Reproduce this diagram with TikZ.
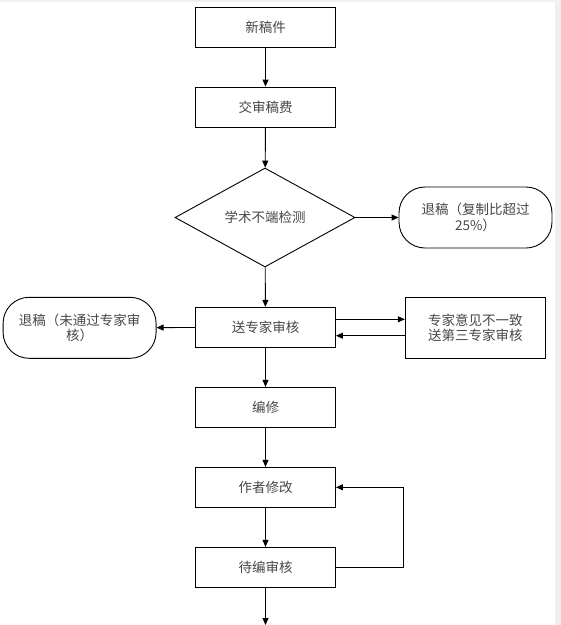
\documentclass[tikz,border=0pt]{standalone}
\usepackage{fontspec}
\newfontfamily\cjk{Noto Sans CJK SC}
\usetikzlibrary{arrows.meta,shapes.geometric}
\definecolor{txt}{RGB}{70,70,70}
\definecolor{edge}{RGB}{240,240,240}
\begin{document}
\begin{tikzpicture}[x=1pt,y=-1pt,
  every node/.style={font=\cjk\fontsize{13.5}{15.5}\selectfont, text=txt},
  box/.style={draw=black, line width=0.9pt, minimum width=140pt, minimum height=40pt, inner sep=0pt, align=center},
  stadium/.style={draw=black, line width=0.9pt, rounded corners=26pt, minimum width=153pt, minimum height=61pt, inner sep=0pt, align=center},
  dia/.style={draw=black, line width=0.9pt, diamond, aspect=1.82, minimum width=180pt, minimum height=99pt, inner sep=0pt},
  arr/.style={draw=black, line width=0.9pt, -{Triangle[length=7pt,width=6pt]}}]
\useasboundingbox (0,0) rectangle (561,625);
\fill[edge] (0,0) rectangle (561,1.6);
\fill[edge] (555,0) rectangle (561,625);

\node[box] (n1) at (265.5,27) {新稿件};
\node[box] (n2) at (265.5,107) {交审稿费};
\node[dia] (d) at (265,217.5) {学术不端检测};
\node[stadium] (r1) at (475.5,217.5) {退稿（复制比超过\\25\%）};
\node[box] (n3) at (265.5,327.3) {送专家审核};
\node[stadium] (r2) at (79.6,327.8) {退稿（未通过专家审\\核）};
\node[box, minimum height=61pt] (n4) at (475.3,327.8) {专家意见不一致\\送第三专家审核};
\node[box] (n5) at (265.5,407.3) {编修};
\node[box] (n6) at (265.5,487.3) {作者修改};
\node[box] (n7) at (265.5,567.3) {待编审核};
\coordinate (endp) at (265.5,625);
\coordinate (loop) at (403.3,0);

\draw[arr] (n1) -- (n2);
\draw[arr] (n2) -- (d);
\draw[arr] (d) -- (r1);
\draw[arr] (d) -- (n3);
\draw[arr] (n3) -- (r2);
\draw[arr] (n3.east |- 0,319.3) -- (n4.west |- 0,319.3);
\draw[arr] (n4.west |- 0,335.7) -- (n3.east |- 0,335.7);
\draw[arr] (n3) -- (n5);
\draw[arr] (n5) -- (n6);
\draw[arr] (n6) -- (n7);
\draw[arr] (n7.east) -- (loop |- n7.east) -- (loop |- n6.east) -- (n6.east);
\draw[arr] (n7) -- (endp);
\end{tikzpicture}
\end{document}
